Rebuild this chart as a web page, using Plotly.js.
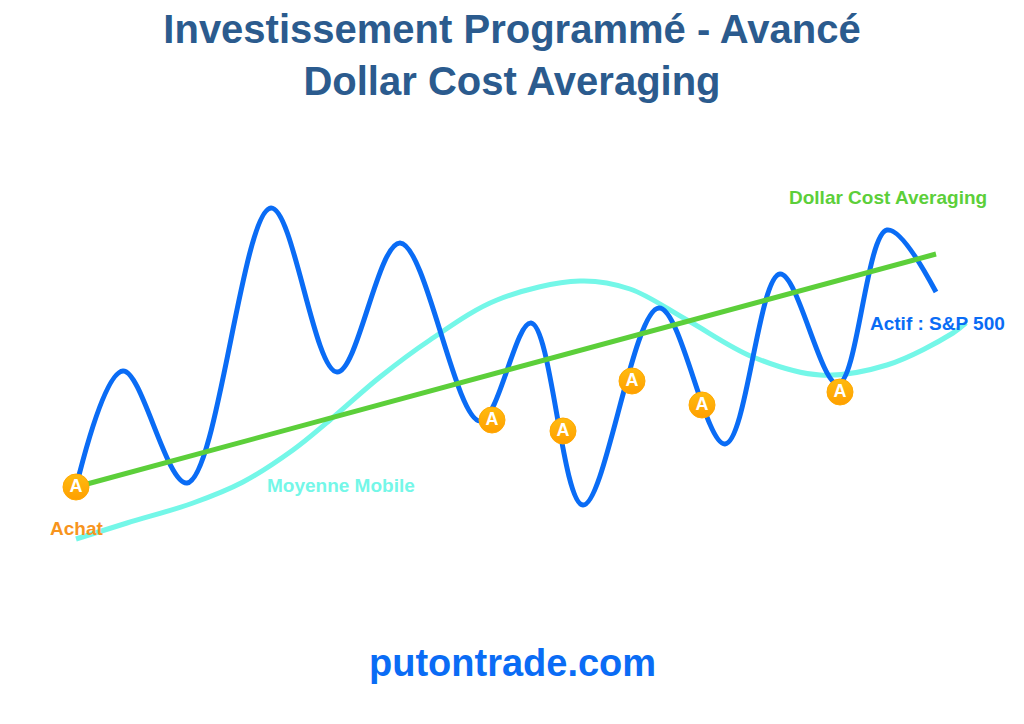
<!DOCTYPE html>
<html>
<head>
<meta charset="utf-8">
<script src="https://cdn.plot.ly/plotly-3.0.1.min.js"></script>
<style>html,body{margin:0;padding:0;background:#fff;}#chart{width:1024px;height:724px;}</style>
</head>
<body>
<div id="chart"></div>
<script>
// Price of the asset (S&P 500) (x = time, y = screen-like level, top = high)
const actifX = [76, 123, 187, 271, 337, 400, 480, 531, 583, 659, 725, 780, 838, 887, 936];
const actifY = [487, 371, 483, 208, 372, 243, 421, 323, 505, 308, 444, 274, 384, 230, 292];

// Moving average
const mmX = [76, 127, 193, 243, 293, 330, 380, 430, 497, 580, 630, 687, 753, 820, 887, 953, 966];
const mmY = [539, 523, 503, 482, 450, 420, 377, 340, 300, 281, 289, 320, 357, 375, 365, 333, 323];

// Dollar cost averaging trend line
const dcaX = [76, 936];
const dcaY = [487, 254];

// Purchase points ("A" = Achat)
const achatX = [76, 492, 563, 632, 702, 840];
const achatY = [487, 420, 431, 381, 405, 392];

const titleText = "Investissement Programmé - Avancé<br>Dollar Cost Averaging";
const siteText = "putontrade.com";

const FONT = 'Liberation Sans, Arial, Helvetica, sans-serif';

const traces = [
  {x: mmX, y: mmY, type: 'scatter', mode: 'lines',
   line: {color: '#74f7e8', width: 5, shape: 'spline', smoothing: 1.0}, hoverinfo: 'skip'},
  {x: actifX, y: actifY, type: 'scatter', mode: 'lines',
   line: {color: '#0a6cf5', width: 5, shape: 'spline', smoothing: 1.0}, hoverinfo: 'skip'},
  {x: dcaX, y: dcaY, type: 'scatter', mode: 'lines',
   line: {color: '#5ccf3a', width: 5}, hoverinfo: 'skip'},
  {x: achatX, y: achatY, type: 'scatter', mode: 'markers+text',
   text: achatX.map(() => 'A'), textposition: 'middle center',
   textfont: {family: FONT, size: 18, color: '#ffffff', weight: 'bold'},
   marker: {size: 26, color: '#ffbb10', line: {color: '#ffa800', width: 1},
            gradient: {type: 'vertical', color: '#ff9f00'}},
   hoverinfo: 'skip'}
];

const ann = (text, x, y, color, size) => ({
  text: '<b>' + text + '</b>', x: x, y: y, xref: 'x', yref: 'y', showarrow: false,
  xanchor: 'center', yanchor: 'middle',
  font: {family: FONT, size: size, color: color}
});

const layout = {
  width: 1024, height: 724,
  paper_bgcolor: '#ffffff', plot_bgcolor: '#ffffff',
  margin: {l: 0, r: 0, t: 0, b: 0},
  showlegend: false,
  title: {
    text: '<b>' + titleText + '</b>',
    x: 0.5, xanchor: 'center', y: 1 - 43 / 724, yanchor: 'top', yref: 'container',
    font: {family: FONT, size: 40, color: '#2b5b8e'}
  },
  xaxis: {range: [0, 1024], visible: false, fixedrange: true},
  yaxis: {range: [724, 0], visible: false, fixedrange: true},
  annotations: [
    ann('Achat', 76, 528, '#f7941d', 19),
    ann('Moyenne Mobile', 341, 485, '#74f7e8', 19),
    ann('Dollar Cost Averaging', 888, 197, '#5ccf3a', 19),
    ann('Actif : S&amp;P 500', 937, 323, '#0a6cf5', 19),
    ann(siteText, 512, 663, '#0a6cf5', 38)
  ]
};

Plotly.newPlot('chart', traces, layout, {displayModeBar: false, staticPlot: true});
</script>
</body>
</html>
